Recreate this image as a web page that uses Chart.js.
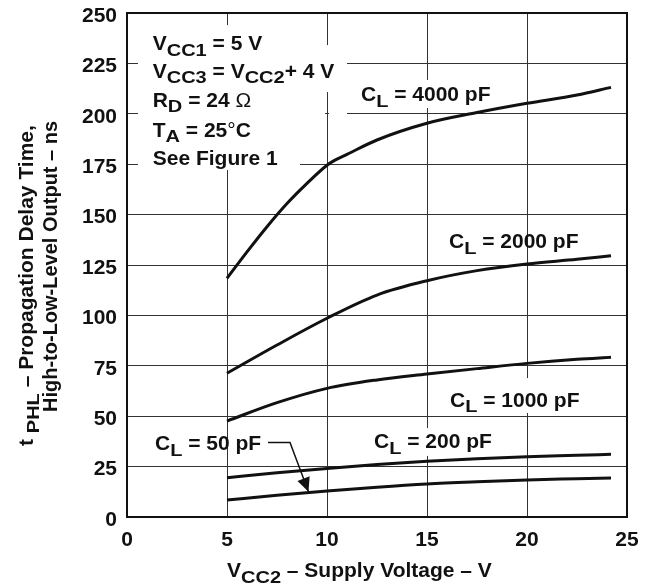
<!DOCTYPE html>
<html><head><meta charset="utf-8">
<script src="https://cdn.jsdelivr.net/npm/chart.js@4/dist/chart.umd.min.js"></script>
<style>html,body{margin:0;padding:0;background:#fff}canvas{display:block}</style>
</head><body>
<canvas id="c" width="652" height="584"></canvas>
<script>
// ---- data ----
const xTicks = [0, 5, 10, 15, 20, 25];
const yTicks = [0, 25, 50, 75, 100, 125, 150, 175, 200, 225, 250];
const v4000 = [5, 6, 7, 8, 9, 10, 10.4, 11, 12.5, 15, 17.5, 20, 22.5, 24.2];
const cl4000 = [118.4, 131.5, 144, 155.5, 165.5, 174.5, 177, 179.9, 187, 195.3, 200.6, 205.2, 209.3, 213.1];
const vCommon = [5, 7.5, 10, 12.5, 15, 17.5, 20, 22.5, 24.2];
const cl2000 = [71.3, 85.3, 98.6, 110.1, 117.2, 122.2, 125.5, 127.8, 129.6];
const cl1000 = [47.6, 56.7, 63.8, 68, 70.9, 73.6, 76.2, 78.2, 79.2];
const cl200 = [19.5, 22.0, 24.1, 26.0, 27.6, 28.9, 29.9, 30.6, 31.1];
const cl50 = [8.4, 10.8, 12.9, 14.8, 16.4, 17.5, 18.4, 19.0, 19.4];
const seriesNames = ['CL = 4000 pF', 'CL = 2000 pF', 'CL = 1000 pF', 'CL = 200 pF', 'CL = 50 pF'];

const FONT = "'Liberation Sans', Arial, Helvetica, sans-serif";
const INK = '#111';
const pts = (xs, ys) => xs.map((x, i) => ({x, y: ys[i]}));

function mk(label, xs, ys) {
  return {label, data: pts(xs, ys), borderColor: INK, borderWidth: 3, pointRadius: 0,
    fill: false, cubicInterpolationMode: 'monotone', borderCapStyle: 'butt'};
}

// rich text: parts [text, sub?, normalWeight?]; subscripts are shorter but keep full width
function drawRich(ctx, x, y, parts, size, subSize, subDrop) {
  let cx = x;
  const stretch = 1.25;
  for (const p of parts) {
    const sub = p[1], light = p[2];
    ctx.font = (light ? 'normal ' : 'bold ') + (sub ? subSize : size) + 'px ' + FONT;
    if (sub) {
      ctx.save();
      ctx.translate(cx, y + subDrop);
      ctx.scale(stretch, 1);
      ctx.fillText(p[0], 0, 0);
      ctx.restore();
      cx += ctx.measureText(p[0]).width * stretch;
    } else {
      ctx.fillText(p[0], cx, y);
      cx += ctx.measureText(p[0]).width;
    }
  }
  return cx - x;
}

const annot = {
  id: 'annot',
  beforeDatasetsDraw(chart) {
    const {ctx, chartArea: a, scales: {x, y}} = chart;
    const X = v => x.getPixelForValue(v), Y = v => y.getPixelForValue(v);
    ctx.save();
    // white masks behind labels
    ctx.fillStyle = '#fff';
    const masks = [
      [0.55, 8.65, 244.0, 172.1],
      [8.65, 11.0, 234.1, 210.8],
      [8.65, 9.9, 201.9, 198.9],
      [10.1, 11.0, 201.9, 198.9],
      [11.4, 18.65, 216.8, 202.9],
      [15.9, 22.9, 68.9, 51.6],
      [12.15, 18.5, 44.1, 30.3]
    ];
    for (const m of masks) {
      ctx.fillRect(X(m[0]), Y(m[2]), X(m[1]) - X(m[0]), Y(m[3]) - Y(m[2]));
    }
    // frame
    ctx.strokeStyle = INK;
    ctx.lineWidth = 2;
    ctx.strokeRect(a.left, a.top, a.right - a.left, a.bottom - a.top);

    ctx.fillStyle = INK;
    ctx.textBaseline = 'alphabetic';
    ctx.textAlign = 'left';
    const S = 21, SS = 16, D = 5.5;
    // condition block
    const bx = X(1.285);
    drawRich(ctx, bx, Y(231.6), [['V'], ['CC1', 1], [' = 5 V']], S, SS, D);
    drawRich(ctx, bx, Y(217.8), [['V'], ['CC3', 1], [' = V'], ['CC2', 1], ['+ 4 V']], S, SS, D);
    drawRich(ctx, bx, Y(203.4), [['R'], ['D', 1], [' = 24 '], ['\u03A9', 0, 1]], S, SS, D);
    drawRich(ctx, bx, Y(188.5), [['T'], ['A', 1], [' = 25'], ['\u00B0', 0, 1], ['C']], S, SS, D);
    drawRich(ctx, bx, Y(174.6), [['See Figure 1']], S, SS, D);
    // curve labels
    const lab = [[11.7, 206.3], [16.1, 133.4], [16.15, 54.7], [12.35, 34.2], [1.4, 33.0]];
    seriesNames.forEach((n, i) => {
      const rest = n.slice(2);
      drawRich(ctx, X(lab[i][0]), Y(lab[i][1]), [['C'], ['L', 1], [rest]], S, SS, D);
    });
    // arrow for 50 pF
    const p0 = [X(7.05), Y(36.9)], p1 = [X(8.15), Y(36.9)], tip = [X(9.075), Y(12.55)];
    ctx.lineWidth = 1.5;
    ctx.beginPath();
    ctx.moveTo(p0[0], p0[1]); ctx.lineTo(p1[0], p1[1]); ctx.lineTo(tip[0], tip[1]);
    ctx.stroke();
    const ang = Math.atan2(tip[1] - p1[1], tip[0] - p1[0]);
    const L = 14, W = 6.5;
    const bxp = tip[0] - L * Math.cos(ang), byp = tip[1] - L * Math.sin(ang);
    ctx.beginPath();
    ctx.moveTo(tip[0], tip[1]);
    ctx.lineTo(bxp + W * Math.sin(ang), byp - W * Math.cos(ang));
    ctx.lineTo(bxp - W * Math.sin(ang), byp + W * Math.cos(ang));
    ctx.closePath();
    ctx.fill();
    ctx.restore();
  },
  afterDraw(chart) {
    const {ctx} = chart;
    ctx.save();
    ctx.fillStyle = INK;
    ctx.textBaseline = 'alphabetic';
    ctx.textAlign = 'left';
    // x title
    drawRich(ctx, 227, 577, [['V'], ['CC2', 1], [' \u2013 Supply Voltage \u2013 V']], 21, 16, 6);
    // y title (rotated)
    ctx.save();
    ctx.translate(33, 446);
    ctx.rotate(-Math.PI / 2);
    drawRich(ctx, 0, 0, [['t '], ['PHL', 1], [' \u2013 Propagation Delay Time,']], 21, 16, 6);
    ctx.restore();
    ctx.save();
    ctx.translate(57, 412);
    ctx.rotate(-Math.PI / 2);
    drawRich(ctx, 0, 0, [['High-to-Low-Level Output \u2013 ns']], 20, 16, 6);
    ctx.restore();
    ctx.restore();
  }
};

new Chart(document.getElementById('c'), {
  type: 'line',
  data: {
    datasets: [
      mk(seriesNames[0], v4000, cl4000),
      mk(seriesNames[1], vCommon, cl2000),
      mk(seriesNames[2], vCommon, cl1000),
      mk(seriesNames[3], vCommon, cl200),
      mk(seriesNames[4], vCommon, cl50)
    ]
  },
  options: {
    responsive: false, animation: false, devicePixelRatio: 1, events: [],
    layout: {padding: {top: 13, right: 25, left: 0, bottom: 0}},
    plugins: {legend: {display: false}, tooltip: {enabled: false}},
    scales: {
      x: {
        type: 'linear', min: 0, max: 25,
        afterBuildTicks: s => { s.ticks = xTicks.map(v => ({value: v})); },
        afterFit: s => { s.height = 67; s.paddingLeft = 0; s.paddingRight = 0; },
        grid: {color: '#333', lineWidth: 1, drawTicks: false},
        border: {display: false},
        ticks: {color: INK, font: {family: FONT, size: 21, weight: 'bold'}, padding: 11, maxRotation: 0}
      },
      y: {
        type: 'linear', min: 0, max: 250,
        afterBuildTicks: s => { s.ticks = yTicks.map(v => ({value: v})); },
        afterFit: s => { s.width = 127; s.paddingTop = 0; s.paddingBottom = 0; },
        grid: {color: '#333', lineWidth: 1, drawTicks: false},
        border: {display: false},
        ticks: {color: INK, font: {family: FONT, size: 21, weight: 'bold'}, padding: 10, labelOffset: 3}
      }
    }
  },
  plugins: [annot]
});
</script>
</body></html>
